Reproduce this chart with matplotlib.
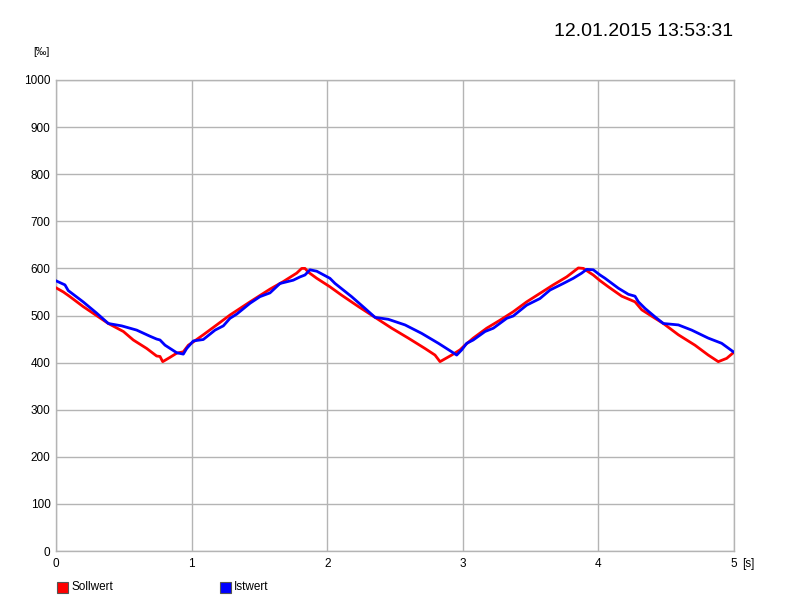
import matplotlib
matplotlib.use('Agg')
import matplotlib.pyplot as plt
from matplotlib.patches import Rectangle

plt.rcParams['font.family'] = ['Liberation Sans', 'DejaVu Sans']

# Sollwert (red)
soll_t = [0.005, 0.054, 0.103, 0.2, 0.386, 0.497, 0.57, 0.669, 0.742, 0.767, 0.787,
          0.84, 0.89, 0.939, 0.976, 1.013, 1.086, 1.185, 1.283, 1.431, 1.578, 1.676,
          1.775, 1.812, 1.836, 1.861, 1.923, 2.02, 2.107, 2.23, 2.353, 2.476, 2.598,
          2.721, 2.795, 2.832, 2.918, 2.979, 3.016, 3.077, 3.176, 3.274, 3.372, 3.471,
          3.569, 3.667, 3.766, 3.852, 3.889, 3.962, 4.012, 4.073, 4.172, 4.27, 4.32,
          4.418, 4.479, 4.59, 4.712, 4.81, 4.884, 4.946, 4.995]
soll_v = [558, 550, 540, 519, 483, 466, 448, 430, 414, 413, 402,
          411, 420, 423, 437, 444, 459, 480, 501, 529, 556, 572,
          590, 600, 600, 592, 579, 561, 543, 519, 496, 473, 452,
          430, 416, 402, 416, 427, 437, 452, 473, 490, 508, 529,
          547, 565, 582, 601, 600, 586, 574, 561, 541, 529, 512,
          494, 483, 459, 437, 416, 402, 409, 421]

# Istwert (blue)
ist_t = [0.005, 0.066, 0.09, 0.2, 0.3, 0.386, 0.484, 0.595, 0.693, 0.742, 0.767,
         0.804, 0.89, 0.939, 0.964, 1.013, 1.086, 1.173, 1.234, 1.283, 1.333, 1.431,
         1.504, 1.578, 1.652, 1.75, 1.8, 1.836, 1.873, 1.923, 2.02, 2.058, 2.18,
         2.279, 2.353, 2.45, 2.574, 2.697, 2.82, 2.918, 2.955, 2.992, 3.029, 3.077,
         3.164, 3.225, 3.324, 3.372, 3.471, 3.569, 3.643, 3.741, 3.815, 3.877, 3.914,
         3.962, 4.012, 4.049, 4.147, 4.221, 4.27, 4.295, 4.344, 4.418, 4.479, 4.59,
         4.688, 4.81, 4.909, 4.995]
ist_v = [573, 565, 553, 529, 505, 483, 478, 469, 456, 450, 448,
         437, 421, 418, 430, 446, 449, 469, 478, 494, 503, 526,
         540, 548, 568, 575, 582, 586, 597, 594, 579, 568, 540,
         515, 496, 492, 480, 462, 441, 423, 416, 427, 441, 448,
         466, 473, 494, 499, 522, 536, 554, 568, 579, 590, 598,
         597, 586, 579, 558, 545, 541, 529, 515, 497, 483, 480,
         469, 452, 441, 423]

x_ticks = [0, 1, 2, 3, 4, 5]
y_ticks = [0, 100, 200, 300, 400, 500, 600, 700, 800, 900, 1000]
timestamp = '12.01.2015 13:53:31'

fig = plt.figure(figsize=(7.9, 5.95), dpi=100)
ax = fig.add_axes([56 / 790, 1 - 551 / 595, 678 / 790, 471 / 595])

ax.plot(soll_t, soll_v, color='#ff0000', lw=2.0, zorder=3)
ax.plot(ist_t, ist_v, color='#0000ff', lw=2.0, zorder=4)

ax.set_xlim(0, 5)
ax.set_ylim(0, 1000)
ax.set_xticks(x_ticks)
ax.set_yticks(y_ticks)
ax.grid(True, color='#b4b4b4', lw=1.0)
ax.set_axisbelow(True)
for s in ax.spines.values():
    s.set_color('#b4b4b4')
    s.set_linewidth(1.0)
ax.tick_params(length=0, labelsize=8.5, colors='black')
ax.tick_params(axis='y', pad=4)
ax.tick_params(axis='x', pad=5)

fig.text(33 / 790, 1 - 52 / 595, '[‰]', fontsize=7.5, va='center', ha='left')
fig.text(742 / 790, 1 - 564 / 595, '[s]', fontsize=8.5, va='center', ha='left')
fig.text(733 / 790, 1 - 31 / 595, timestamp, fontsize=14, va='center', ha='right')

# legend below the plot
for x0, col, name in [(57, '#ff0000', 'Sollwert'), (220, '#0000ff', 'Istwert')]:
    fig.add_artist(Rectangle((x0 / 790, 1 - 593 / 595), 11 / 790, 11 / 595,
                             facecolor=col, edgecolor='#555555', lw=0.8,
                             transform=fig.transFigure))
    fig.text((x0 + 14) / 790, 1 - 587.5 / 595, name, fontsize=8.5,
             va='center', ha='left')

fig.savefig('out.png', dpi=100)
